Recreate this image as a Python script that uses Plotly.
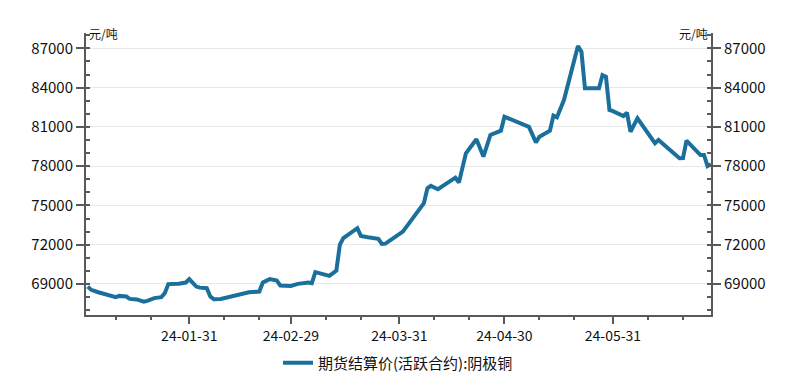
import plotly.graph_objects as go

# ---- data ----
dates = [
    "2024-01-02", "2024-01-03", "2024-01-05", "2024-01-07", "2024-01-09", "2024-01-10",
    "2024-01-11", "2024-01-13", "2024-01-14", "2024-01-16", "2024-01-18", "2024-01-19",
    "2024-01-21", "2024-01-23", "2024-01-24", "2024-01-25", "2024-01-28", "2024-01-30",
    "2024-01-31", "2024-02-02", "2024-02-03", "2024-02-05", "2024-02-06", "2024-02-07",
    "2024-02-09", "2024-02-12", "2024-02-15", "2024-02-17", "2024-02-20", "2024-02-21",
    "2024-02-23", "2024-02-25", "2024-02-26", "2024-02-29", "2024-03-02", "2024-03-05",
    "2024-03-06", "2024-03-07", "2024-03-11", "2024-03-13", "2024-03-14", "2024-03-15",
    "2024-03-19", "2024-03-20", "2024-03-22", "2024-03-25", "2024-03-26", "2024-03-27",
    "2024-04-01", "2024-04-03", "2024-04-07", "2024-04-08", "2024-04-09", "2024-04-11",
    "2024-04-16", "2024-04-17", "2024-04-19", "2024-04-22", "2024-04-24", "2024-04-26",
    "2024-04-29", "2024-04-30", "2024-05-06", "2024-05-07", "2024-05-09", "2024-05-10",
    "2024-05-13", "2024-05-14", "2024-05-15", "2024-05-17", "2024-05-21", "2024-05-22",
    "2024-05-23", "2024-05-27", "2024-05-28", "2024-05-29", "2024-05-30", "2024-05-31",
    "2024-06-03", "2024-06-04", "2024-06-05", "2024-06-07", "2024-06-12", "2024-06-13",
    "2024-06-19", "2024-06-20", "2024-06-21", "2024-06-25", "2024-06-26", "2024-06-27",
    "2024-06-28",
]
values = [
    68800, 68550, 68370, 68240, 68040, 67990,
    68090, 68040, 67860, 67820, 67650, 67710,
    67920, 67990, 68300, 68990, 69010, 69110,
    69370, 68800, 68720, 68680, 68040, 67840,
    67860, 68040, 68240, 68370, 68420, 69110,
    69370, 69260, 68880, 68850, 69010, 69110,
    69060, 69900, 69620, 70020, 72000, 72500,
    73260, 72670, 72570, 72450, 72060, 72080,
    73000, 73760, 75170, 76310, 76490, 76240,
    77120, 76740, 78980, 80050, 78730, 80380,
    80710, 81780, 81050, 81000, 79820, 80250,
    80710, 81860, 81730, 83050, 87180, 86740,
    83950, 83950, 84960, 84830, 82290, 82200,
    81830, 82080, 80630, 81660, 79750, 80000,
    78600, 78620, 79950, 78850, 78850, 78000,
    78150,
]

x_tick_dates = ["2024-01-31", "2024-02-29", "2024-03-31", "2024-04-30", "2024-05-31"]
x_tick_labels = ["24-01-31", "24-02-29", "24-03-31", "24-04-30", "24-05-31"]
x_minor_dates = [
    "2024-01-10", "2024-01-20", "2024-02-10", "2024-02-20", "2024-03-10", "2024-03-20",
    "2024-04-10", "2024-04-20", "2024-05-10", "2024-05-20", "2024-06-10", "2024-06-20",
]
y_tick_vals = [69000, 72000, 75000, 78000, 81000, 84000, 87000]
y_tick_labels = ["69000", "72000", "75000", "78000", "81000", "84000", "87000"]
y_range = [66630, 88170]
x_range = ["2024-01-01 12:00", "2024-06-28"]

series_name = "期货结算价(活跃合约):阴极铜"
unit_label = "元/吨"

LINE = "#1b6f9c"
AXIS = "#595959"
GRID = "#e8e8e8"
FONT = "Noto Sans CJK SC"

# the page body has an 8px default margin; size the figure so it fits the window
FIG_W, FIG_H = 792, 377

fig = go.Figure()
fig.add_trace(go.Scatter(
    x=dates, y=values, mode="lines", name=series_name,
    line=dict(color=LINE, width=4), yaxis="y",
))
fig.add_trace(go.Scatter(
    x=dates, y=values, mode="lines", showlegend=False, hoverinfo="skip",
    line=dict(color="rgba(0,0,0,0)", width=0), yaxis="y2",
))

yaxis_common = dict(
    range=y_range, tickmode="array", tickvals=y_tick_vals, ticktext=y_tick_labels,
    ticks="outside", ticklen=8, tickwidth=1.5, tickcolor=AXIS,
    showline=True, linecolor=AXIS, linewidth=2,
    tickfont=dict(family=FONT, size=15, color="#111111"),
    minor=dict(dtick=1000, tick0=0, ticks="inside", ticklen=4, tickwidth=1.5,
               tickcolor=AXIS, showgrid=False),
    zeroline=False, fixedrange=True, automargin=False,
)

fig.update_layout(
    width=FIG_W, height=FIG_H,
    margin=dict(l=78, r=89, t=25, b=70, autoexpand=False),
    paper_bgcolor="white", plot_bgcolor="white",
    font=dict(family=FONT, size=14, color="#111111"),
    showlegend=True,
    legend=dict(orientation="h", x=(398 - 8) / FIG_W, xanchor="center", xref="container",
                y=(FIG_H - (363 - 8)) / FIG_H, yanchor="middle", yref="container",
                font=dict(family=FONT, size=15, color="#111111")),
    xaxis=dict(
        type="date", range=x_range, tickmode="array", tickvals=x_tick_dates,
        ticktext=x_tick_labels, ticks="outside", ticklen=7, tickwidth=1.5, tickcolor=AXIS,
        showline=True, linecolor=AXIS, linewidth=2, showgrid=False, zeroline=False,
        automargin=False,
        tickfont=dict(family=FONT, size=14, color="#111111"),
        minor=dict(tickmode="array", tickvals=x_minor_dates, ticks="outside", ticklen=3,
                   tickwidth=1.5, tickcolor=AXIS, showgrid=False),
    ),
    yaxis=dict(side="left", showgrid=True, gridcolor=GRID, gridwidth=1, **yaxis_common),
    yaxis2=dict(side="right", overlaying="y", showgrid=False, **yaxis_common),
    annotations=[
        dict(text=unit_label, xref="paper", yref="paper", x=0, y=1, xanchor="left",
             yanchor="middle", showarrow=False, xshift=1,
             font=dict(family=FONT, size=12, color="#111111")),
        dict(text=unit_label, xref="paper", yref="paper", x=1, y=1, xanchor="right",
             yanchor="middle", showarrow=False, xshift=-1,
             font=dict(family=FONT, size=12, color="#111111")),
    ],
)

fig.write_html("out.html")
